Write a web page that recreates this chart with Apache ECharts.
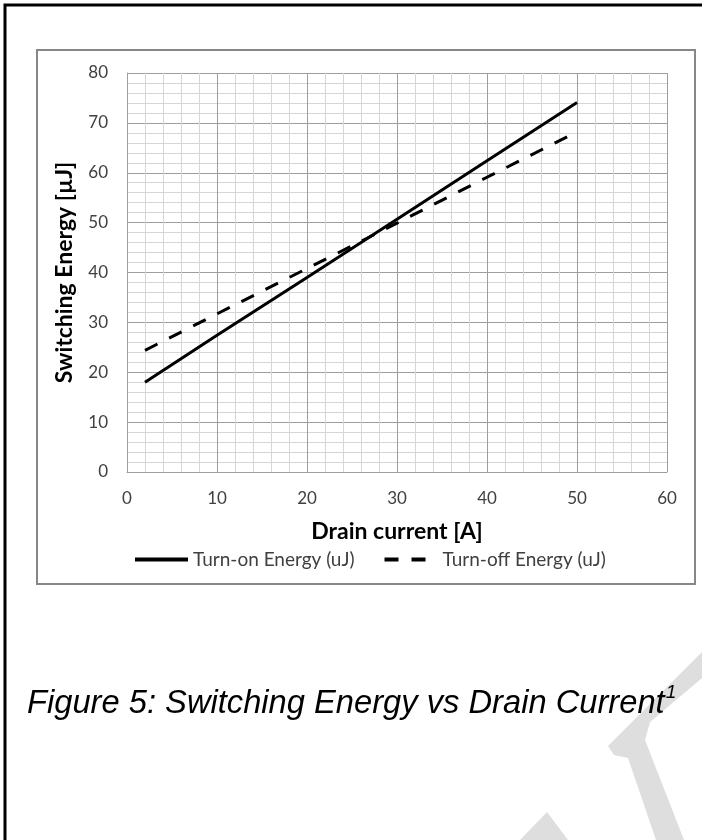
<!DOCTYPE html>
<html><head><meta charset="utf-8">
<script src="https://cdn.jsdelivr.net/npm/echarts@6/dist/echarts.min.js"></script>
<style>html,body{margin:0;padding:0;background:#fff}#c{width:702px;height:840px}</style>
</head><body><div id="c"></div>
<script>
// ---- data ----
const drainCurrent = [2, 10, 20, 30, 40, 50];
const turnOnEnergy = [18.0, 27.4, 39.0, 50.7, 62.4, 74.1];
const turnOffEnergy = [24.4, 31.7, 40.8, 49.9, 59.1, 68.2];
const seriesNames = ['Turn-on Energy (uJ)', 'Turn-off Energy (uJ)'];
const xTickRange = [0, 60, 10];   // min, max, interval
const yTickRange = [0, 80, 10];
const xTitle = 'Drain current [A]';
const yTitle = 'Switching Energy [µJ]';
const captionText = 'Figure 5: Switching Energy vs Drain Current';
const captionNote = '1';

const pair = (xs, ys) => xs.map((x, i) => [x, ys[i]]);

const captionFont = 'italic 32.7px "Liberation Sans"';
const cv = document.createElement('canvas').getContext('2d');
cv.font = captionFont;
const capW = cv.measureText(captionText).width;

const labelStyle = { fontFamily: 'Lato', fontSize: 17, color: '#404040' };
const legendText = { fontFamily: 'Lato', fontSize: 19, color: '#404040' };
const nameStyle = { fontFamily: 'Lato', fontSize: 23, fontWeight: 'bold', color: '#000' };
const major = { show: true, lineStyle: { color: '#9e9e9e', width: 1 } };
const minor = { show: true, lineStyle: { color: '#d6d6d6', width: 1 } };

const chart = echarts.init(document.getElementById('c'), null, { renderer: 'canvas' });
chart.setOption({
  backgroundColor: '#fff',
  animation: false,
  graphic: [
    { type: 'polygon', z: 0, shape: { points: [[702,652],[608,746],[614,755],[628,758],[656,840],[684,840],[645,740],[650,722],[702,678]] }, style: { fill: '#dedede' } },
    { type: 'polygon', z: 0, shape: { points: [[547,812],[520,840],[568,840]] }, style: { fill: '#dedede' } },
    { type: 'rect', z: 1, shape: { x: 5, y: 5, width: 760, height: 900 }, style: { fill: 'none', stroke: '#000', lineWidth: 3 } },
    { type: 'rect', z: 1, shape: { x: 37, y: 50, width: 658, height: 534 }, style: { fill: 'none', stroke: '#878787', lineWidth: 2 } },
    { type: 'text', z: 10, style: { text: captionText, x: 27, y: 704, font: captionFont, fill: '#000', verticalAlign: 'middle' } },
    { type: 'text', z: 10, style: { text: captionNote, x: 27 + capW + 1, y: 693, font: 'italic 19px "Liberation Sans"', fill: '#000', verticalAlign: 'middle' } }
  ],
  grid: { left: 127, right: 35, top: 73, bottom: 368, containLabel: false, outerBoundsMode: 'none' },
  legend: {
    left: 128, top: 545, itemWidth: 53, itemHeight: 14, itemGap: 28,
    itemStyle: { opacity: 0 },
    lineStyle: { width: 4, color: '#000' },
    textStyle: legendText,
    data: seriesNames
  },
  xAxis: {
    type: 'value', min: xTickRange[0], max: xTickRange[1], interval: xTickRange[2],
    axisLine: { show: true, lineStyle: { color: '#9e9e9e' } },
    axisTick: { show: false },
    minorTick: { show: false, splitNumber: 5 },
    splitLine: major, minorSplitLine: minor,
    axisLabel: Object.assign({ margin: 18 }, labelStyle),
    name: xTitle, nameLocation: 'middle', nameGap: 48, nameTextStyle: nameStyle
  },
  yAxis: {
    type: 'value', min: yTickRange[0], max: yTickRange[1], interval: yTickRange[2],
    axisLine: { show: true, lineStyle: { color: '#9e9e9e' } },
    axisTick: { show: false },
    minorTick: { show: false, splitNumber: 5 },
    splitLine: major, minorSplitLine: minor,
    axisLabel: Object.assign({ margin: 19 }, labelStyle),
    name: yTitle, nameLocation: 'middle', nameGap: 51, nameTextStyle: nameStyle
  },
  series: [
    { name: seriesNames[0], type: 'line', symbol: 'none', data: pair(drainCurrent, turnOnEnergy),
      lineStyle: { color: '#000', width: 3, type: 'solid' }, itemStyle: { color: '#000' } },
    { name: seriesNames[1], type: 'line', symbol: 'none', data: pair(drainCurrent, turnOffEnergy),
      lineStyle: { color: '#000', width: 3, type: [14, 13] }, itemStyle: { color: '#000' } }
  ]
});
</script></body></html>
